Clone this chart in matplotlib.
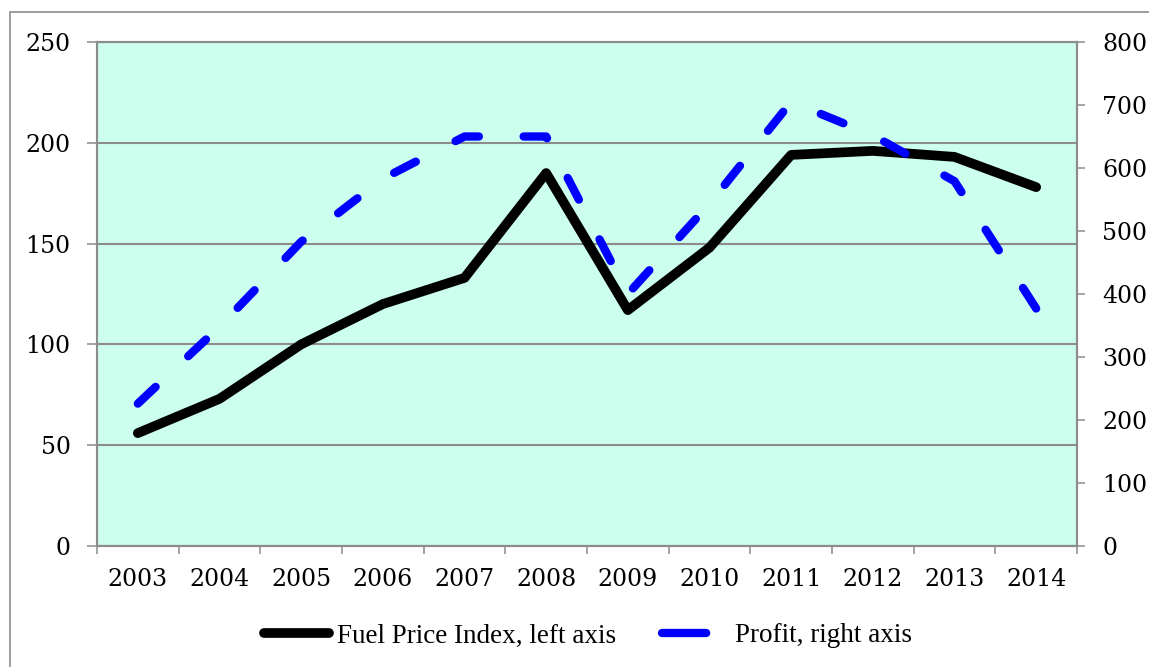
import matplotlib
matplotlib.use("Agg")
import numpy as np
import matplotlib.pyplot as plt
from matplotlib.patches import Rectangle
from matplotlib.lines import Line2D
from matplotlib.ticker import FixedLocator, MultipleLocator

years = ["2003", "2004", "2005", "2006", "2007", "2008",
         "2009", "2010", "2011", "2012", "2013", "2014"]
fuel_price_index = [56, 73, 100, 120, 133, 185, 117, 148, 194, 196, 193, 178]
profit = [226, 348, 483, 583, 650, 650, 400, 543, 705, 652, 579, 377]

W, H = 1149, 667
DPI = 100
fig = plt.figure(figsize=(W / DPI, H / DPI), dpi=DPI)
fig.patch.set_facecolor("white")

# outer chart border (partially outside the picture)
fig.add_artist(Rectangle((10 / W, -0.05), 1.2, 1 - 12 / H + 0.05,
                         transform=fig.transFigure, fill=False,
                         edgecolor="#8c8c8c", linewidth=1.2))

grey = "#8c8c8c"
ax = fig.add_axes([97 / W, 1 - 546 / H, 980 / W, 504 / H])
ax.set_facecolor("#CCFFEE")
x = list(range(len(years)))

ax.plot(x, fuel_price_index, color="black", lw=7, solid_capstyle="round",
        solid_joinstyle="round", zorder=3)
ax.set_xlim(-0.5, len(years) - 0.5)
ax.set_ylim(0, 250)
ax.yaxis.set_major_locator(MultipleLocator(50))
ax.grid(axis="y", color=grey, lw=1.5)
ax.set_axisbelow(True)

ax.set_xticks(x)
ax.set_xticklabels(years)
ax.xaxis.set_minor_locator(FixedLocator([i - 0.5 for i in range(len(years) + 1)]))
ax.tick_params(axis="x", which="major", length=0, pad=16)
ax.tick_params(axis="x", which="minor", length=6, width=1.1, color=grey)
ax.tick_params(axis="y", length=7, width=1.1, color=grey, pad=12)

ax2 = ax.twinx()
ax2.set_ylim(0, 800)
ax2.yaxis.set_major_locator(MultipleLocator(100))
ax2.tick_params(axis="y", length=6, width=1.1, color=grey, pad=12)

# dash pattern scaled so the dashed line starts and ends on a dash
lw_p = 6.0
on, off = 3.0, 5.5
pts = ax2.transData.transform(np.column_stack([x, profit]))
L_px = np.sum(np.hypot(np.diff(pts[:, 0]), np.diff(pts[:, 1])))
L_u = L_px * 72 / DPI / lw_p
n = max(1, round((L_u - on) / (on + off)))
k = L_u / (n * (on + off) + on)
ax2.plot(x, profit, color="#0000FF", lw=lw_p,
         linestyle=(0, (on * k, off * k)), dash_capstyle="round", zorder=4)

for a in (ax, ax2):
    for s in a.spines.values():
        s.set_color(grey)
        s.set_linewidth(1.5)
    for lbl in a.get_xticklabels() + a.get_yticklabels():
        lbl.set_fontfamily("DejaVu Serif")
        lbl.set_fontsize(17)

h_fuel = Line2D([], [], color="black", lw=7, solid_capstyle="round")
h_profit = Line2D([], [], color="#0000FF", lw=6, linestyle=(0, (5.3, 12)),
                  dash_capstyle="round")
fig.legend([h_fuel, h_profit], ["Fuel Price Index, left axis", "Profit, right axis"],
           loc="center", bbox_to_anchor=(0.512, 1 - 636 / H),
           ncol=2, frameon=False, handlelength=2.4, handletextpad=0.3,
           columnspacing=1.7, prop={"family": "Liberation Serif", "size": 19.5})

fig.savefig("out.png", dpi=DPI)
